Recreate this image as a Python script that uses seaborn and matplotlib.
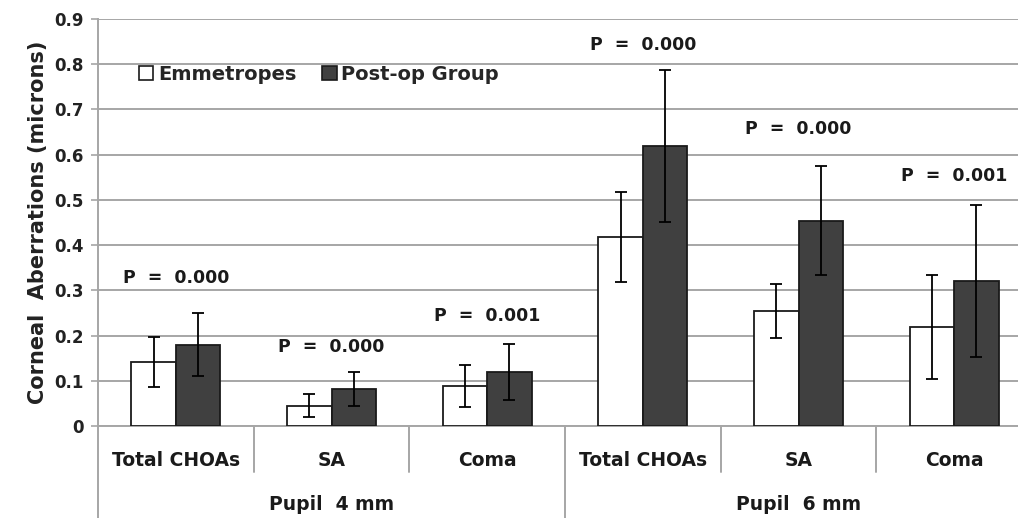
import matplotlib
matplotlib.use("Agg")
import matplotlib.pyplot as plt
import matplotlib.transforms as mtransforms
from matplotlib.patches import Patch
import seaborn as sns
import pandas as pd
import numpy as np

# ---- data ----
categories = ["Total CHOAs", "SA", "Coma", "Total CHOAs", "SA", "Coma"]
pupil_groups = ["Pupil  4 mm", "Pupil  6 mm"]
emmetropes = [0.142, 0.045, 0.088, 0.418, 0.254, 0.220]
emmetropes_err = [0.055, 0.025, 0.047, 0.100, 0.060, 0.115]
postop = [0.180, 0.082, 0.119, 0.620, 0.454, 0.320]
postop_err = [0.070, 0.038, 0.062, 0.168, 0.120, 0.168]
p_labels = ["P  =  0.000", "P  =  0.000", "P  =  0.001", "P  =  0.000", "P  =  0.000", "P  =  0.001"]
p_label_y = [0.327, 0.175, 0.243, 0.843, 0.657, 0.553]
series = ["Emmetropes", "Post-op Group"]

keys = [f"{i}" for i in range(len(categories))]
df = pd.DataFrame({
    "key": keys * 2,
    "value": emmetropes + postop,
    "series": [series[0]] * 6 + [series[1]] * 6,
})

sns.set_theme(style="white")
FAM = ["DejaVu Sans"]
plt.rcParams["font.family"] = FAM
plt.rcParams["font.weight"] = "bold"

fig = plt.figure(figsize=(10.18, 5.18), dpi=100)
ax = fig.add_axes([98 / 1018, (518 - 426) / 518, (1032 - 98) / 1018, (426 - 19) / 518])

sns.barplot(data=df, x="key", y="value", hue="series", order=keys,
            hue_order=series, palette=["white", "#404040"], errorbar=None,
            width=0.57, edgecolor="#1a1a1a", linewidth=1.3, ax=ax, legend=False, zorder=3)

# error bars from the drawn bars
conts = ax.containers
for cont, errs in zip(conts, [emmetropes_err, postop_err]):
    xs = [b.get_x() + b.get_width() / 2 for b in cont]
    ys = [b.get_height() for b in cont]
    ax.errorbar(xs, ys, yerr=errs, fmt="none", ecolor="black", elinewidth=1.3,
                capsize=4, capthick=1.3, zorder=4)

ax.set_xlim(-0.5, 5.5)
ax.set_ylim(0, 0.9)
ax.set_yticks(np.arange(0, 0.91, 0.1))
ax.set_yticklabels(["0"] + [f"{v:.1f}" for v in np.arange(0.1, 0.91, 0.1)],
                   fontsize=12, fontweight="bold", color="#222222")
ax.yaxis.grid(True, color="#a6a6a6", linewidth=1.4, zorder=0)
ax.set_axisbelow(True)
ax.tick_params(axis="y", length=5, color="#a6a6a6", width=1.2, pad=5, left=True)
ax.tick_params(axis="x", length=0, labelbottom=False)
for side in ["top", "right"]:
    ax.spines[side].set_visible(False)
ax.spines["left"].set_color("#a6a6a6")
ax.spines["left"].set_linewidth(1.4)
ax.spines["bottom"].set_color("#a6a6a6")
ax.spines["bottom"].set_linewidth(1.4)
ax.set_xlabel("")
ax.set_ylabel("Corneal  Aberrations (microns)", fontsize=15, fontweight="bold",
              color="#222222", labelpad=5)

trans = mtransforms.blended_transform_factory(ax.transData, ax.transAxes)
px = 1 / (426 - 19)  # one pixel in axes fraction (vertical)

# category labels
for i, c in enumerate(categories):
    ax.text(i, -34 * px, c, transform=trans, ha="center", va="center",
            fontsize=13.5, fontweight="bold", color="#1a1a1a")
# group labels
for g, lab in enumerate(pupil_groups):
    ax.text(1 + 3 * g, -79 * px, lab, transform=trans, ha="center", va="center",
            fontsize=13.5, fontweight="bold", color="#1a1a1a")
# separators
for b in np.arange(-0.5, 6.0, 1.0):
    if b in (-0.5, 2.5, 5.5):
        y0 = -100 * px
    else:
        y0 = -46 * px
    ax.plot([b, b], [0, y0], transform=trans, color="#a6a6a6", lw=1.4,
            clip_on=False, zorder=1)

# p-value annotations
for i, (lab, yy) in enumerate(zip(p_labels, p_label_y)):
    ax.text(i, yy, lab, ha="center", va="center", fontsize=12.5,
            fontweight="bold", color="#1a1a1a", zorder=5)

# legend
handles = [Patch(facecolor="white", edgecolor="#1a1a1a", linewidth=1.2, label=series[0]),
           Patch(facecolor="#404040", edgecolor="#1a1a1a", linewidth=1.2, label=series[1])]
leg = ax.legend(handles=handles, loc="upper left", bbox_to_anchor=(0.025, 0.93),
                ncol=2, frameon=False, handlelength=0.75,
                handleheight=0.75, handletextpad=0.25, columnspacing=1.3,
                prop={"weight": "bold", "size": 14, "family": FAM})

fig.savefig("out.png", dpi=100)
